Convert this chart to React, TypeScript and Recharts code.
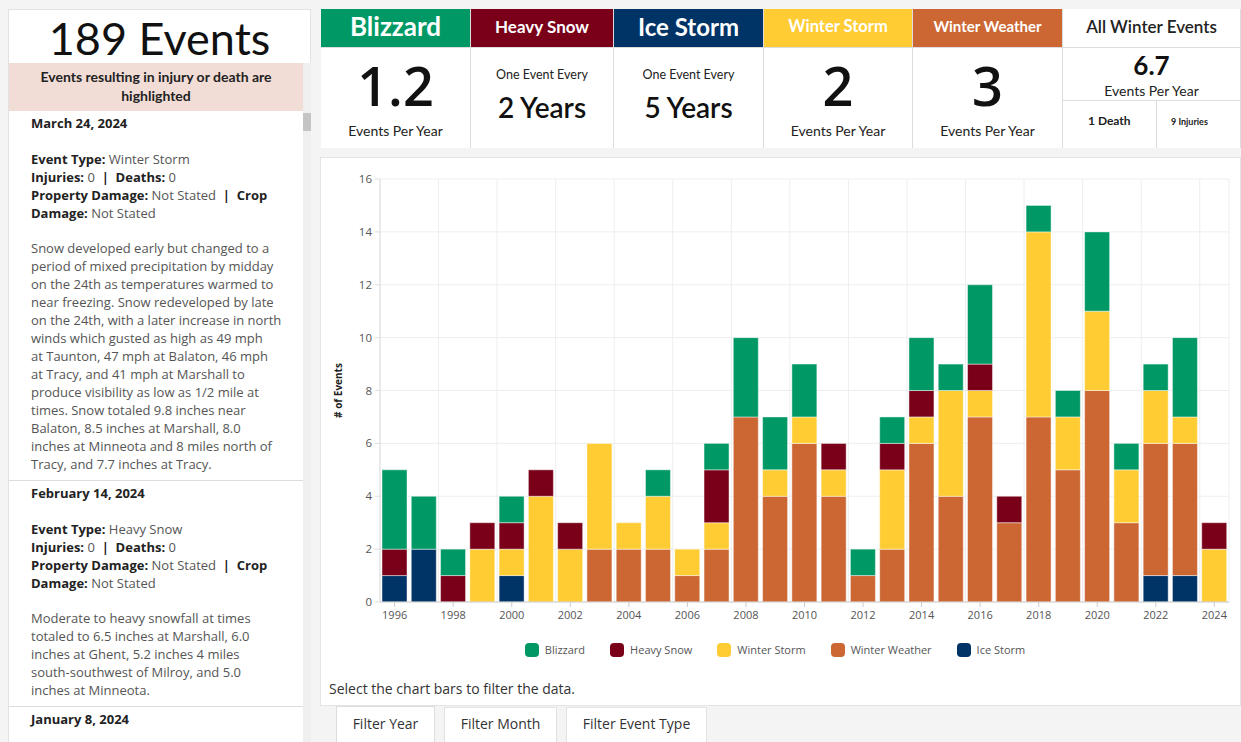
import React from 'react';
import { BarChart, Bar, XAxis, YAxis, CartesianGrid, Legend } from 'recharts';

const years = [
  '1996', '1997', '1998', '1999', '2000', '2001', '2002', '2003', '2004', '2005',
  '2006', '2007', '2008', '2009', '2010', '2011', '2012', '2013', '2014', '2015',
  '2016', '2017', '2018', '2019', '2020', '2021', '2022', '2023', '2024',
];
const iceStorm = [1, 2, 0, 0, 1, 0, 0, 0, 0, 0, 0, 0, 0, 0, 0, 0, 0, 0, 0, 0, 0, 0, 0, 0, 0, 0, 1, 1, 0];
const winterWeather = [0, 0, 0, 0, 0, 0, 0, 2, 2, 2, 1, 2, 7, 4, 6, 4, 1, 2, 6, 4, 7, 3, 7, 5, 8, 3, 5, 5, 0];
const winterStorm = [0, 0, 0, 2, 1, 4, 2, 4, 1, 2, 1, 1, 0, 1, 1, 1, 0, 3, 1, 4, 1, 0, 7, 2, 3, 2, 2, 1, 2];
const heavySnow = [1, 0, 1, 1, 1, 1, 1, 0, 0, 0, 0, 2, 0, 0, 0, 1, 0, 1, 1, 0, 1, 1, 0, 0, 0, 0, 0, 0, 1];
const blizzard = [3, 2, 1, 0, 1, 0, 0, 0, 0, 1, 0, 1, 3, 2, 2, 0, 1, 1, 2, 1, 3, 0, 1, 1, 3, 1, 1, 3, 0];
const yTicks = [0, 2, 4, 6, 8, 10, 12, 14, 16];

// stacking order, bottom to top
const series = [
  { key: 'ice', name: 'Ice Storm', color: '#003366', values: iceStorm },
  { key: 'ww', name: 'Winter Weather', color: '#cc6633', values: winterWeather },
  { key: 'ws', name: 'Winter Storm', color: '#ffcc33', values: winterStorm },
  { key: 'hs', name: 'Heavy Snow', color: '#7a0019', values: heavySnow },
  { key: 'bl', name: 'Blizzard', color: '#009966', values: blizzard },
];
const legendOrder = ['bl', 'hs', 'ws', 'ww', 'ice'];

const data = years.map((year, i) => {
  const row: Record<string, string | number> = { year };
  series.forEach((s) => { row[s.key] = s.values[i]; });
  return row;
});

const UI = 'Lato, "Open Sans", sans-serif';
const BODY = '"Open Sans", Lato, sans-serif';

function ChartLegend() {
  return (
    <div style={{ display: 'flex', justifyContent: 'center', fontFamily: BODY, fontSize: 11, color: '#555', height: 17 }}>
      {legendOrder.map((k, i) => {
        const s = series.find((x) => x.key === k)!;
        return (
          <div key={k} style={{ display: 'flex', alignItems: 'center', marginRight: i < legendOrder.length - 1 ? 25 : 0 }}>
            <span style={{ width: 14, height: 14, borderRadius: 4, background: s.color, marginRight: 6, display: 'inline-block' }} />
            <span>{s.name}</span>
          </div>
        );
      })}
    </div>
  );
}

function Card({ left, width, title, bg, color, titleSize, children }: any) {
  return (
    <div style={{ position: 'absolute', left, top: 9, width, height: 139, background: '#fff', borderRight: '1px solid #ddd', boxSizing: 'border-box' }}>
      <div style={{ height: 39, background: bg, color, fontSize: titleSize, fontWeight: 700, display: 'flex', alignItems: 'center', justifyContent: 'center', borderBottom: '1px solid #ddd', paddingBottom: 4, boxSizing: 'border-box' }}>
        {title}
      </div>
      <div style={{ position: 'relative', height: 100 }}>{children}</div>
    </div>
  );
}

function BigValue({ value }: { value: string }) {
  return (
    <>
      <div style={{ position: 'absolute', top: 2, width: '100%', textAlign: 'center', fontFamily: BODY, fontSize: 54, fontWeight: 600, lineHeight: '70px', color: '#111' }}>{value}</div>
      <div style={{ position: 'absolute', top: 74, width: '100%', textAlign: 'center', fontSize: 14, color: '#222' }}>Events Per Year</div>
    </>
  );
}

function EveryValue({ value }: { value: string }) {
  return (
    <>
      <div style={{ position: 'absolute', top: 19, width: '100%', textAlign: 'center', fontSize: 12.5, color: '#222' }}>One Event Every</div>
      <div style={{ position: 'absolute', top: 42, width: '100%', textAlign: 'center', fontSize: 28, fontWeight: 600, color: '#111' }}>{value}</div>
    </>
  );
}

const line = (t: React.ReactNode, i: number) => (
  <div key={i} style={{ whiteSpace: 'nowrap', height: 18, lineHeight: '18px' }}>{t}</div>
);

function EventEntry({ date, type, lines }: { date: string; type: string; lines: string[] }) {
  const b = { fontWeight: 700, color: '#222' };
  return (
    <div style={{ padding: '3px 0 7px 22px', borderBottom: '1px solid #ddd', color: '#555' }}>
      {line(<span style={b}>{date}</span>, 0)}
      {line('', 1)}
      {line(<><span style={b}>Event Type:</span> {type}</>, 2)}
      {line(<><span style={b}>Injuries:</span> 0 <span style={b}>&nbsp;|&nbsp;</span> <span style={b}>Deaths:</span> 0</>, 3)}
      {line(<><span style={b}>Property Damage:</span> Not Stated <span style={b}>&nbsp;|&nbsp; Crop</span></>, 4)}
      {line(<><span style={b}>Damage:</span> Not Stated</>, 5)}
      <div style={{ height: 17 }} />
      {lines.map((t, i) => line(t, i + 7))}
    </div>
  );
}

export default function App() {
  return (
    <div style={{ position: 'absolute', left: 0, top: 0, width: 1241, height: 742, overflow: 'hidden', background: '#f4f4f4', fontFamily: UI }}>
      {/* left event list */}
      <div style={{ position: 'absolute', left: 8, top: 9, width: 303, height: 740, background: '#fff', border: '1px solid #e2e2e2', boxSizing: 'border-box' }}>
        <div style={{ height: 53, textAlign: 'center', fontSize: 45, lineHeight: '56px', color: '#111' }}>189 Events</div>
        <div style={{ position: 'absolute', left: 294, top: 53, width: 8, height: 690, background: '#efefef' }}>
          <div style={{ marginTop: 50, height: 18, background: '#c4c4c4' }} />
        </div>
        <div style={{ width: 294, height: 48, background: '#f2ddd6', fontWeight: 700, fontSize: 14, color: '#222', textAlign: 'center', lineHeight: '19px', paddingTop: 4, boxSizing: 'border-box' }}>
          Events resulting in injury or death are<br />highlighted
        </div>
        <div style={{ width: 294, fontFamily: BODY, fontSize: 13 }}>
          <EventEntry
            date="March 24, 2024"
            type="Winter Storm"
            lines={[
              'Snow developed early but changed to a',
              'period of mixed precipitation by midday',
              'on the 24th as temperatures warmed to',
              'near freezing. Snow redeveloped by late',
              'on the 24th, with a later increase in north',
              'winds which gusted as high as 49 mph',
              'at Taunton, 47 mph at Balaton, 46 mph',
              'at Tracy, and 41 mph at Marshall to',
              'produce visibility as low as 1/2 mile at',
              'times. Snow totaled 9.8 inches near',
              'Balaton, 8.5 inches at Marshall, 8.0',
              'inches at Minneota and 8 miles north of',
              'Tracy, and 7.7 inches at Tracy.',
            ]}
          />
          <EventEntry
            date="February 14, 2024"
            type="Heavy Snow"
            lines={[
              'Moderate to heavy snowfall at times',
              'totaled to 6.5 inches at Marshall, 6.0',
              'inches at Ghent, 5.2 inches 4 miles',
              'south-southwest of Milroy, and 5.0',
              'inches at Minneota.',
            ]}
          />
          <div style={{ padding: '3px 0 0 22px', lineHeight: '18px', fontWeight: 700, color: '#222' }}>January 8, 2024</div>
        </div>
      </div>

      {/* summary cards */}
      <Card left={321} width={150} title="Blizzard" bg="#009966" color="#fff" titleSize={26}>
        <BigValue value="1.2" />
      </Card>
      <Card left={471} width={143} title="Heavy Snow" bg="#7a0019" color="#fff" titleSize={17}>
        <EveryValue value="2 Years" />
      </Card>
      <Card left={614} width={150} title="Ice Storm" bg="#003366" color="#fff" titleSize={24}>
        <EveryValue value="5 Years" />
      </Card>
      <Card left={764} width={149} title="Winter Storm" bg="#ffcc33" color="#fff" titleSize={16.5}>
        <BigValue value="2" />
      </Card>
      <Card left={913} width={150} title="Winter Weather" bg="#cc6633" color="#fff" titleSize={15}>
        <BigValue value="3" />
      </Card>
      <Card left={1063} width={178} title={<span style={{ fontWeight: 600 }}>All Winter Events</span>} bg="#fff" color="#222" titleSize={17}>
        <div style={{ position: 'absolute', top: 1, width: '100%', textAlign: 'center', fontSize: 26, fontWeight: 700, color: '#111' }}>6.7</div>
        <div style={{ position: 'absolute', top: 34, width: '100%', textAlign: 'center', fontSize: 14, color: '#222' }}>Events Per Year</div>
        <div style={{ position: 'absolute', top: 52, left: 0, width: '100%', borderTop: '1px solid #ddd' }} />
        <div style={{ position: 'absolute', top: 52, left: 93, height: 48, borderLeft: '1px solid #ddd' }} />
        <div style={{ position: 'absolute', top: 65, left: 25, fontSize: 12, fontWeight: 700, color: '#222' }}>1 Death</div>
        <div style={{ position: 'absolute', top: 68, left: 108, fontSize: 9, fontWeight: 700, color: '#222' }}>9 Injuries</div>
      </Card>

      {/* chart panel */}
      <div style={{ position: 'absolute', left: 320, top: 157, width: 921, height: 549, background: '#fff', border: '1px solid #e4e4e4', boxSizing: 'border-box' }}>
        <BarChart
          width={920}
          height={548}
          data={data}
          margin={{ top: 21, right: 12, left: 0, bottom: 48 }}
          barCategoryGap={2}
        >
          <CartesianGrid
            stroke="#eeeeee"
            verticalCoordinatesGenerator={({ offset }: any) => {
              const band = offset.width / years.length;
              const xs: number[] = [];
              for (let i = 0; i <= years.length; i += 2) xs.push(offset.left + i * band);
              xs.push(offset.left + offset.width);
              return xs;
            }}
          />
          <XAxis
            dataKey="year"
            interval={1}
            height={36}
            tickSize={5}
            tickMargin={4}
            stroke="#cccccc"
            tick={{ fill: '#555', fontSize: 11, fontFamily: BODY }}
          />
          <YAxis
            width={59}
            domain={[0, 16]}
            ticks={yTicks}
            tickSize={5}
            tickMargin={3}
            stroke="#dddddd"
            tick={{ fill: '#555', fontSize: 11.5, fontFamily: BODY }}
            label={{ value: '# of Events', angle: -90, position: 'insideLeft', offset: 17, style: { fontSize: 10, fontWeight: 700, fill: '#222', fontFamily: BODY, textAnchor: 'middle' } }}
          />
          <Legend verticalAlign="bottom" content={() => <ChartLegend />} wrapperStyle={{ paddingTop: 3 }} />
          {series.map((s) => (
            <Bar
              key={s.key}
              dataKey={s.key}
              name={s.name}
              stackId="a"
              fill={s.color}
              stroke="rgba(255,255,255,0.45)"
              strokeWidth={1}
              isAnimationActive={false}
            />
          ))}
        </BarChart>
        <div style={{ position: 'absolute', left: 8, top: 521, fontSize: 14, color: '#333', fontFamily: BODY }}>
          Select the chart bars to filter the data.
        </div>
      </div>

      {/* tabs */}
      <div style={{ position: 'absolute', left: 336, top: 706, width: 99, height: 40, background: '#fff', border: '1px solid #ddd', borderBottom: 'none', boxSizing: 'border-box', fontSize: 14, color: '#333', textAlign: 'center', lineHeight: '34px', fontFamily: BODY }}>Filter Year</div>
      <div style={{ position: 'absolute', left: 444, top: 707, width: 113, height: 40, background: '#fff', border: '1px solid #e2e2e2', boxSizing: 'border-box', fontSize: 14, color: '#333', textAlign: 'center', lineHeight: '32px', fontFamily: BODY }}>Filter Month</div>
      <div style={{ position: 'absolute', left: 566, top: 707, width: 141, height: 40, background: '#fff', border: '1px solid #e2e2e2', boxSizing: 'border-box', fontSize: 14, color: '#333', textAlign: 'center', lineHeight: '32px', fontFamily: BODY }}>Filter Event Type</div>
    </div>
  );
}
